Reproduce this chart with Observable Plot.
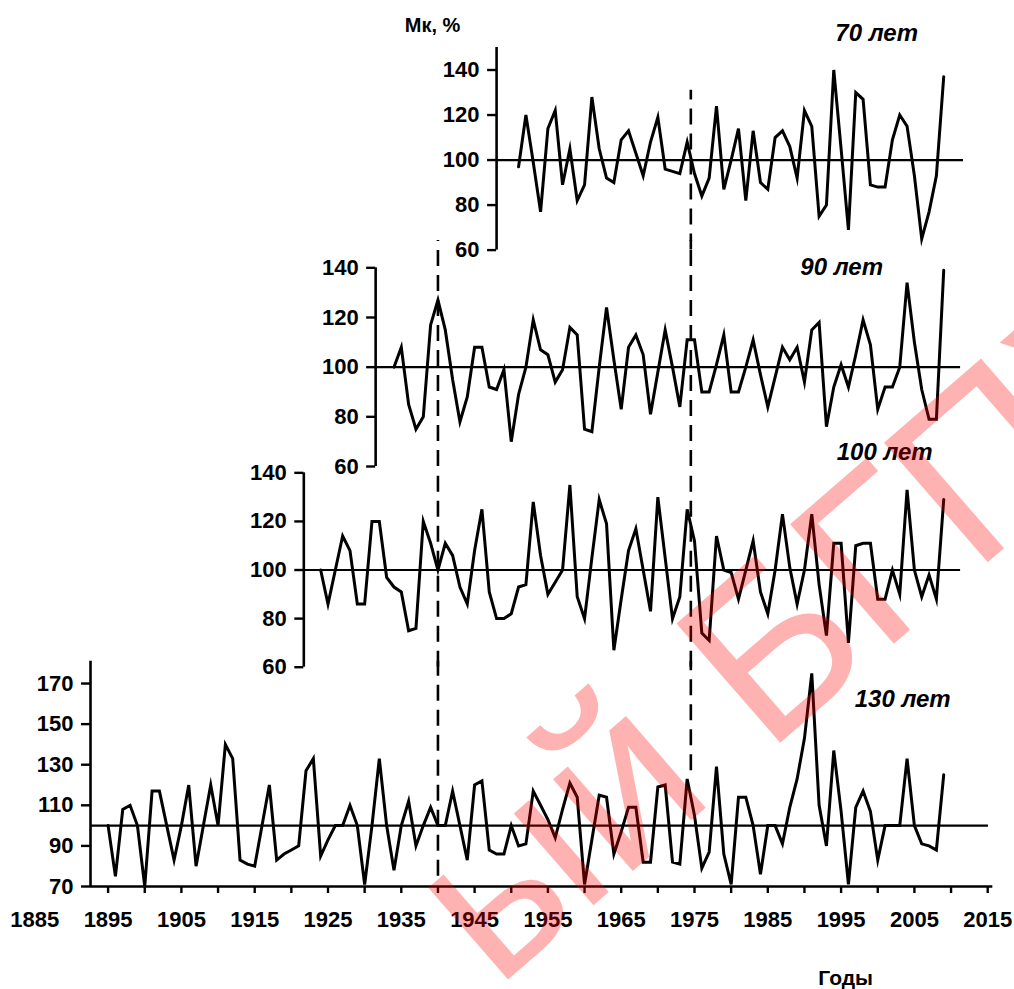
<!DOCTYPE html>
<html>
<head>
<meta charset="utf-8">
<script src="https://cdn.jsdelivr.net/npm/d3@7"></script>
<script src="https://cdn.jsdelivr.net/npm/@observablehq/plot@0.6"></script>
<style>
  html, body { margin: 0; padding: 0; background: #fff; }
  #chart { position: relative; width: 1014px; height: 989px; overflow: hidden;
           font-family: "Liberation Sans", Arial, Helvetica, sans-serif; }
  #chart svg { position: absolute; left: 0; top: 0; overflow: visible; }
</style>
</head>
<body>
<div id="chart"></div>
<script>
// ---------- data ----------
const years70 = d3.range(1951, 2010);
const values70 = [97,120,99,77,114,122,89,105,82,89,128,105,92,90,109,113,103,93,108,119,
  96,95,94,108,94,84,92,124,87,100,114,82,113,90,87,110,113,106,92,122,
  115,75,80,140,105,69,130,127,89,88,88,109,120,115,93,65,77,93,137];

const years90 = d3.range(1934, 2010);
const values90 = [100,108,85,75,80,117,127,115,95,78,88,108,108,92,91,99,70,89,100,119,
  107,105,94,99,116,113,75,74,100,124,103,83,108,113,105,81,98,115,100,84,
  111,111,90,90,101,113,90,90,100,111,97,84,96,108,103,108,94,115,118,76,
  92,101,92,105,119,109,83,92,92,100,134,110,91,79,79,139];

const years100 = d3.range(1924, 2010);
const values100 = [100,86,100,114,108,86,86,120,120,97,93,91,75,76,120,111,100,111,106,93,
  86,108,125,91,80,80,82,93,94,128,106,90,95,100,135,89,80,105,129,119,
  67,88,108,117,100,83,130,105,80,89,125,112,74,71,114,100,99,88,100,112,
  91,82,100,123,101,86,100,123,94,73,111,111,70,110,111,111,88,88,100,90,
  133,100,89,98,88,129];

const years130 = d3.range(1895, 2010);
const values130 = [100,75,108,110,100,70,117,117,100,83,100,120,80,100,120,100,140,133,83,81,
  80,100,120,83,86,88,90,127,133,85,93,100,100,110,100,71,100,133,100,78,
  100,112,90,100,109,100,100,117,100,83,120,122,88,86,86,100,90,91,117,110,
  103,94,108,121,114,71,93,115,114,86,97,109,109,82,82,119,120,82,81,123,
  105,79,87,129,86,71,114,114,100,76,100,100,91,109,123,143,175,110,90,137,
  107,71,109,117,107,83,100,100,100,133,100,91,90,88,125];

const titles = ["70 лет", "90 лет", "100 лет", "130 лет"];
const yTicksA = [60, 80, 100, 120, 140];
const yTicksD = [70, 90, 110, 130, 150, 170];
const xTickYears = d3.range(1895, 2016, 5);
const xLabelYears = d3.range(1885, 2016, 10);
const guideYears = [1940, 1974.5];   // dashed vertical lines
const yLabel = "Мк, %";
const xLabel = "Годы";

// ---------- layout ----------
const W = 1014, H = 989;
const xLeft = 34.3, xRight = 987.2, yearMin = 1885, yearMax = 2015;
const pxPerYear = (xRight - xLeft) / (yearMax - yearMin);
const FONT = '"Liberation Sans", Arial, Helvetica, sans-serif';

const panels = [
  {title: titles[0], years: years70,  values: values70,  axisStart: 1948.0, baseEnd: 2011.7,
   yDomain: [60, 150], frame: [47, 249.6], ticks: yTicksA, axisTop: 150, titleAt: [-111, -14]},
  {title: titles[1], years: years90,  values: values90,  axisStart: 1931.5, baseEnd: 2011.3,
   yDomain: [60, 151], frame: [240, 466], ticks: yTicksA, axisTop: 140, titleAt: [-146, 27]},
  {title: titles[2], years: years100, values: values100, axisStart: 1921.7, baseEnd: 2011.3,
   yDomain: [60, 142.2], frame: [467, 666.7], ticks: yTicksA, axisTop: 140, titleAt: [-103, -15]},
  {title: titles[3], years: years130, values: values130, axisStart: 1892.6, baseEnd: 2015.1,
   yDomain: [70, 181], frame: [660.7, 886], ticks: yTicksD, axisTop: 181, titleAt: [-85, 38]}
];
// dashed guides: which panel they start/end in and at what value there
const guides = [
  {year: guideYears[0], top: [1, 151], bottom: [3, 75]},
  {year: guideYears[1], top: [0, 131], bottom: [3, 127]}
];

const chart = document.getElementById("chart");

panels.forEach((p, i) => {
  const isBottom = i === panels.length - 1;
  const data = p.years.map((yr, k) => ({year: yr, value: p.values[k]}));
  const ml = xLeft + (p.axisStart - yearMin) * pxPerYear;
  const [lo, hi] = p.yDomain;
  const marks = [];

  // dashed guides
  guides.forEach(g => {
    if (i < g.top[0] || i > g.bottom[0]) return;
    const y2 = i === g.top[0] ? g.top[1] : hi;
    const y1 = i === g.bottom[0] ? g.bottom[1] : lo;
    marks.push(Plot.ruleX([{x: g.year, y1, y2}], {x: "x", y1: "y1", y2: "y2",
      stroke: "#000", strokeWidth: 2.6, strokeDasharray: "16,9"}));
  });

  // baseline 100 %
  marks.push(Plot.ruleY([{y: 100, x1: p.axisStart, x2: p.baseEnd}], {y: "y", x1: "x1", x2: "x2",
    stroke: "#000", strokeWidth: 2.2}));
  // y axis line
  marks.push(Plot.ruleX([{x: p.axisStart, y1: lo, y2: p.axisTop}], {x: "x", y1: "y1", y2: "y2",
    stroke: "#000", strokeWidth: 2.6}));
  marks.push(Plot.axisY({ticks: p.ticks, tickSize: 9, tickPadding: 8, tickFormat: d => String(d),
    label: null, strokeWidth: 2.4, fontSize: 22, fontWeight: "bold"}));

  // series
  marks.push(Plot.line(data, {x: "year", y: "value", stroke: "#000", strokeWidth: 3,
    strokeLinejoin: "miter", strokeMiterlimit: 6}));

  // panel title
  marks.push(Plot.text([p.title], {frameAnchor: "top-right", dx: p.titleAt[0], dy: p.titleAt[1],
    text: d => d, textAnchor: "middle", lineAnchor: "middle", fontSize: 24,
    fontStyle: "italic", fontWeight: "bold", fill: "#000"}));

  if (i === 0) {
    marks.push(Plot.text([yLabel], {frameAnchor: "top-left", dx: -64, dy: -22, text: d => d,
      textAnchor: "middle", lineAnchor: "middle", fontSize: 20, fontWeight: "bold", fill: "#000"}));
  }
  if (isBottom) {
    marks.push(Plot.ruleY([{y: lo, x1: p.axisStart, x2: 2015.7}], {y: "y", x1: "x1", x2: "x2",
      stroke: "#000", strokeWidth: 2.6}));
    marks.push(Plot.axisX({ticks: xTickYears, tickSize: 7, tickFormat: () => "", label: null,
      strokeWidth: 2.4}));
    marks.push(Plot.axisX({ticks: xLabelYears, tickSize: 0, tickPadding: 25, label: null,
      tickFormat: d => String(d), fontSize: 22, fontWeight: "bold"}));
    marks.push(Plot.text([xLabel], {frameAnchor: "bottom-right", dx: -142, dy: 92, text: d => d,
      textAnchor: "middle", lineAnchor: "middle", fontSize: 21, fontWeight: "bold", fill: "#000"}));
  }

  const svg = Plot.plot({
    width: W, height: H,
    marginLeft: ml, marginRight: W - xRight,
    marginTop: p.frame[0], marginBottom: H - p.frame[1],
    x: isBottom ? {domain: [p.axisStart, yearMax], label: null}
                : {domain: [p.axisStart, yearMax], label: null, axis: null},
    y: {domain: p.yDomain, label: null},
    style: {background: "none", overflow: "visible", color: "#000",
            fontFamily: FONT, fontSize: "22px", fontWeight: "bold"},
    marks
  });
  chart.appendChild(svg);
});

// repository watermark overlay (pale red)
const ns = "http://www.w3.org/2000/svg";
const wm = document.createElementNS(ns, "svg");
wm.setAttribute("width", W); wm.setAttribute("height", H);
wm.style.pointerEvents = "none";
const t = document.createElementNS(ns, "text");
t.setAttribute("x", 496); t.setAttribute("y", 990);
t.setAttribute("transform", "rotate(-41 496 990)");
t.setAttribute("font-family", FONT);
t.setAttribute("font-size", 230);
t.setAttribute("fill", "rgb(255,0,0)");
t.setAttribute("fill-opacity", 0.3);
t.textContent = "ый БГПУ";
wm.appendChild(t);
chart.appendChild(wm);
</script>
</body>
</html>
